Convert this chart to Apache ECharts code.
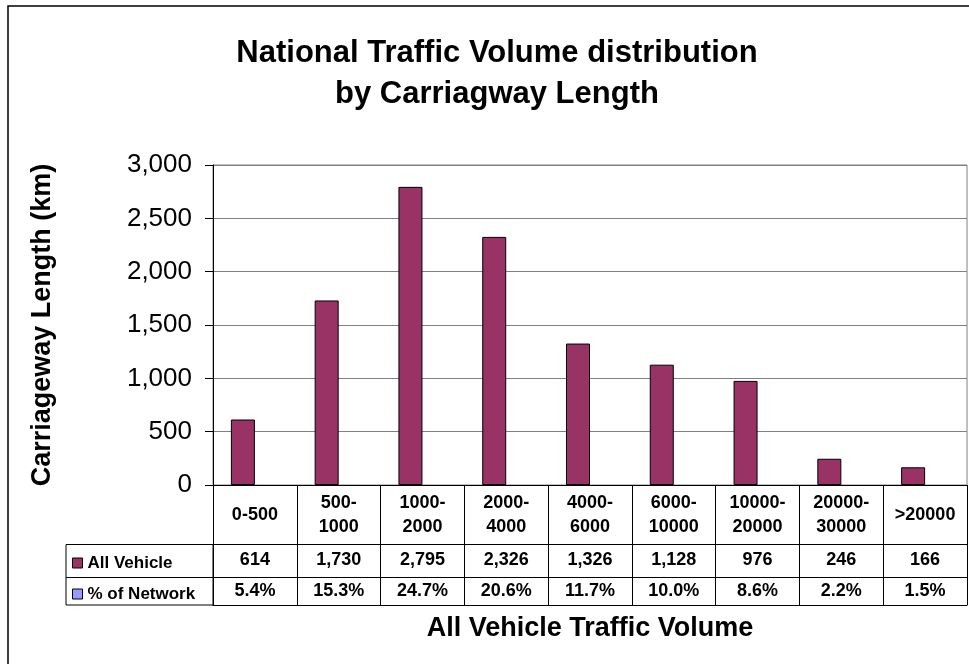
<!DOCTYPE html>
<html>
<head>
<meta charset="utf-8">
<script src="https://cdn.jsdelivr.net/npm/echarts@6/dist/echarts.min.js"></script>
<style>
  html, body { margin: 0; padding: 0; background: #fff; }
  #traffic-chart { width: 969px; height: 664px; }
</style>
</head>
<body>
<div id="traffic-chart"></div>
<script>
// 数据
var categories = ['0-500', '500-\n1000', '1000-\n2000', '2000-\n4000', '4000-\n6000',
                  '6000-\n10000', '10000-\n20000', '20000-\n30000', '>20000'];
var allVehicle = [614, 1730, 2795, 2326, 1326, 1128, 976, 246, 166];
var pctNetwork = [5.4, 15.3, 24.7, 20.6, 11.7, 10.0, 8.6, 2.2, 1.5];
var yMin = 0, yMax = 3000, yStep = 500;

var FONT = '"Liberation Sans", Arial, sans-serif';

function withCommas(n) {
    return String(n).replace(/\B(?=(\d{3})+(?!\d))/g, ',');
}

var trafficChart = echarts.init(document.getElementById('traffic-chart'));

// table rows below the axis are extra category axes pushed down with offset
function tableAxis(values, offset, margin) {
    return {
        type: 'category',
        position: 'bottom',
        offset: offset,
        data: values,
        axisLine: { show: true, lineStyle: { color: '#000', width: 1 } },
        axisTick: { show: false },
        axisLabel: {
            interval: 0, margin: margin, verticalAlign: 'middle',
            color: '#000', fontFamily: FONT, fontWeight: 'bold', fontSize: 18
        }
    };
}

var xAxes = [
    {
        type: 'category',
        position: 'bottom',
        data: categories,
        axisLine: { lineStyle: { color: '#000', width: 1 } },
        axisTick: { show: true, interval: 0, length: 120, lineStyle: { color: '#000' } },
        axisLabel: {
            interval: 0, margin: 30, verticalAlign: 'middle', lineHeight: 24,
            color: '#000', fontFamily: FONT, fontWeight: 'bold', fontSize: 18
        }
    },
    tableAxis(allVehicle.map(withCommas), 59, 16),
    tableAxis(pctNetwork.map(function (v) { return v.toFixed(1) + '%'; }), 92, 14),
    {
        type: 'category',
        position: 'bottom',
        offset: 120,
        data: categories,
        axisLine: { show: true, lineStyle: { color: '#000', width: 1 } },
        axisTick: { show: false },
        axisLabel: { show: false },
        name: 'All Vehicle Traffic Volume',
        nameLocation: 'middle',
        nameGap: 10,
        nameTextStyle: { color: '#000', fontFamily: FONT, fontWeight: 'bold', fontSize: 27, verticalAlign: 'top' }
    }
];

trafficChart.setOption({
    animation: false,
    backgroundColor: '#fff',
    title: {
        text: 'National Traffic Volume distribution\nby Carriagway Length',
        left: 492,
        top: 28,
        textAlign: 'center',
        textStyle: { color: '#000', fontFamily: FONT, fontWeight: 'bold', fontSize: 31, lineHeight: 41 }
    },
    legend: {
        orient: 'vertical',
        left: 72,
        top: 553,
        padding: 0,
        itemWidth: 10,
        itemHeight: 10,
        itemGap: 11,
        selectedMode: false,
        icon: 'rect',
        itemStyle: { borderColor: '#000', borderWidth: 1 },
        textStyle: { color: '#000', fontFamily: FONT, fontWeight: 'bold', fontSize: 17, lineHeight: 20 },
        data: ['All Vehicle', '% of Network']
    },
    grid: {
        left: 213, right: 2, top: 165, bottom: 179,
        show: true, borderColor: '#808080', borderWidth: 1, backgroundColor: '#fff'
    },
    xAxis: xAxes,
    yAxis: {
        type: 'value',
        min: yMin, max: yMax, interval: yStep,
        name: 'Carriageway Length (km)',
        nameLocation: 'middle',
        nameGap: 157,
        nameTextStyle: { color: '#000', fontFamily: FONT, fontWeight: 'bold', fontSize: 27 },
        axisLine: { show: true, lineStyle: { color: '#000' } },
        axisTick: { show: true, length: 8, lineStyle: { color: '#000' } },
        axisLabel: {
            margin: 21, color: '#000', fontFamily: FONT, fontSize: 26,
            formatter: function (v) { return withCommas(v); }
        },
        splitLine: { lineStyle: { color: '#808080', width: 1 } }
    },
    series: [
        {
            name: 'All Vehicle',
            type: 'bar',
            data: allVehicle,
            barWidth: 24,
            barGap: '0%',
            itemStyle: { color: '#993366', borderColor: '#000', borderWidth: 1 }
        },
        {
            // percentages stored as fractions, so the bars are practically flat
            name: '% of Network',
            type: 'bar',
            data: pctNetwork.map(function (v) { return v / 100; }),
            barWidth: 24,
            itemStyle: { color: '#9999FF', borderColor: '#000', borderWidth: 0 }
        }
    ],
    graphic: [
        {   // outer chart frame
            type: 'rect', silent: true, z: -1,
            shape: { x: 8, y: 6, width: 1000, height: 700 },
            style: { fill: 'none', stroke: '#000', lineWidth: 1.5 }
        },
        {   // row header cells of the data table
            type: 'rect', silent: true,
            shape: { x: 66, y: 544.5, width: 147, height: 60.5 },
            style: { fill: 'none', stroke: '#000', lineWidth: 1 }
        },
        {
            type: 'line', silent: true,
            shape: { x1: 66, y1: 577.5, x2: 213, y2: 577.5 },
            style: { stroke: '#000', lineWidth: 1 }
        }
    ]
});
</script>
</body>
</html>
